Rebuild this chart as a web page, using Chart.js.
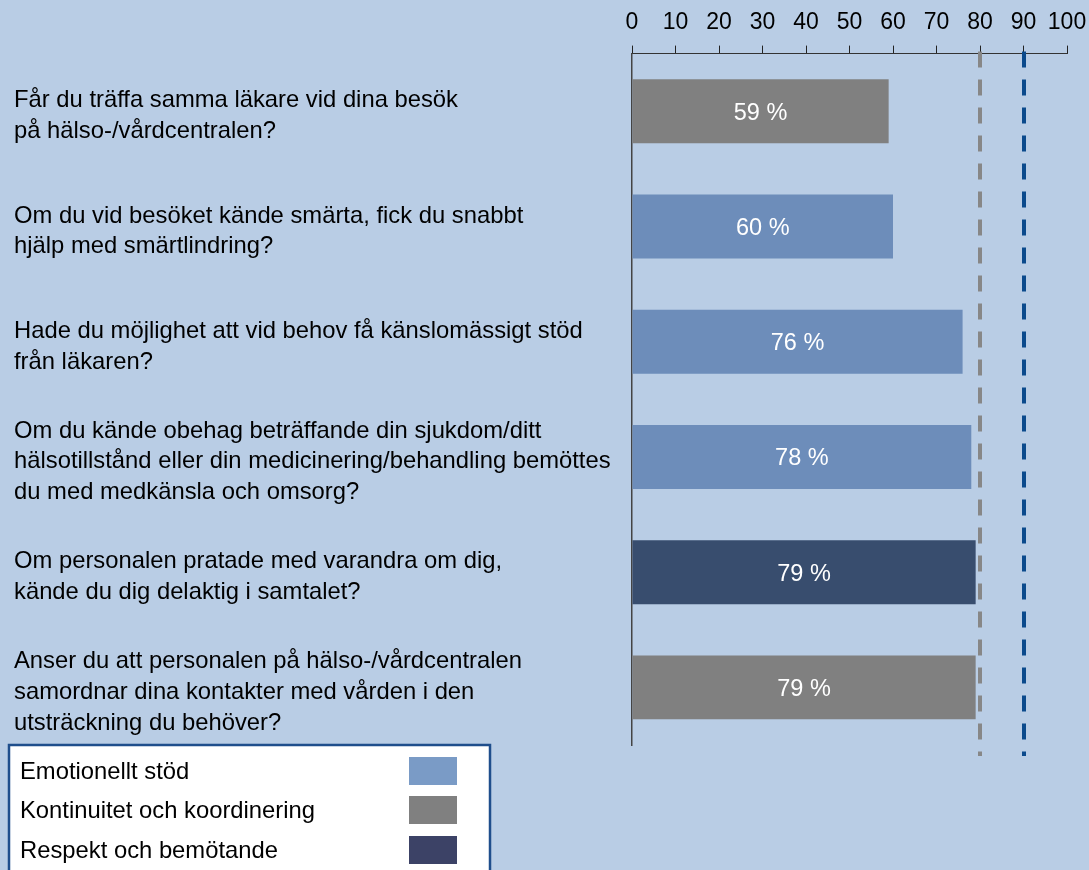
<!DOCTYPE html>
<html lang="sv">
<head>
<meta charset="utf-8">
<title>Frågor</title>
<script src="https://cdn.jsdelivr.net/npm/chart.js@4.4.1/dist/chart.umd.min.js"></script>
<style>
  html, body { margin: 0; padding: 0; background: #b9cde5; }
  #wrap { width: 1089px; height: 870px; position: relative; }
</style>
</head>
<body>
<div id="wrap"><canvas id="grafico" width="1089" height="870"></canvas></div>
<script>
// Frågorna (en rad per element i varje array)
const fragor = [
  ['Får du träffa samma läkare vid dina besök', 'på hälso-/vårdcentralen?'],
  ['Om du vid besöket kände smärta, fick du snabbt', 'hjälp med smärtlindring?'],
  ['Hade du möjlighet att vid behov få känslomässigt stöd', 'från läkaren?'],
  ['Om du kände obehag beträffande din sjukdom/ditt', 'hälsotillstånd eller din medicinering/behandling bemöttes', 'du med medkänsla och omsorg?'],
  ['Om personalen pratade med varandra om dig,', 'kände du dig delaktig i samtalet?'],
  ['Anser du att personalen på hälso-/vårdcentralen', 'samordnar dina kontakter med vården i den', 'utsträckning du behöver?']
];
const andelPositiva = [59, 60, 76, 78, 79, 79];
// vilken dimension varje fråga hör till (index i dimensioner)
const dimensionPerFraga = [1, 0, 0, 0, 2, 1];

const dimensioner = ['Emotionellt stöd', 'Kontinuitet och koordinering', 'Respekt och bemötande'];
const dimensionFarger = ['#6d8dba', '#808080', '#384d6e'];
const legendFarger = ['#7a9bc6', '#808080', '#3c4266'];

// referenslinjer (grå = 80, blå = 90)
const referensVarden = [80, 90];
const referensFarger = ['#878787', '#0b4a8c'];

const xTicks = [0, 10, 20, 30, 40, 50, 60, 70, 80, 90, 100];

const fontFamilj = '"Liberation Sans", Arial, sans-serif';

// Plugin: streckade referenslinjer
const referensLinjer = {
  id: 'referensLinjer',
  afterDatasetsDraw(chart) {
    const { ctx, chartArea, scales } = chart;
    ctx.save();
    ctx.lineWidth = 4;
    ctx.setLineDash([16, 12]);
    referensVarden.forEach((v, i) => {
      const x = Math.round(scales.x.getPixelForValue(v));
      ctx.strokeStyle = referensFarger[i];
      ctx.beginPath();
      ctx.moveTo(x, chartArea.top - 2);
      ctx.lineTo(x, chartArea.bottom + 11);
      ctx.stroke();
    });
    ctx.restore();
  }
};

// Plugin: procenttext mitt i staplarna
const stapelEtiketter = {
  id: 'stapelEtiketter',
  afterDatasetsDraw(chart) {
    const { ctx } = chart;
    const meta = chart.getDatasetMeta(0);
    ctx.save();
    ctx.fillStyle = '#ffffff';
    ctx.font = '23.5px ' + fontFamilj;
    ctx.textAlign = 'center';
    ctx.textBaseline = 'middle';
    meta.data.forEach((bar, i) => {
      const mitt = (bar.x + bar.base) / 2;
      ctx.fillText(andelPositiva[i] + ' %', mitt, bar.y + 2);
    });
    ctx.restore();
  }
};

// Plugin: förklaringsrutan nere till vänster
const forklaring = {
  id: 'forklaring',
  afterDraw(chart) {
    const { ctx } = chart;
    ctx.save();
    ctx.fillStyle = '#ffffff';
    ctx.fillRect(9, 745, 481, 130);
    ctx.strokeStyle = '#1f4e8c';
    ctx.lineWidth = 2.5;
    ctx.strokeRect(9, 745, 481, 130);

    ctx.font = '23.8px ' + fontFamilj;
    ctx.textBaseline = 'middle';
    ctx.textAlign = 'left';
    const radY = [771, 810, 850];
    dimensioner.forEach((namn, i) => {
      ctx.fillStyle = '#000000';
      ctx.fillText(namn, 20, radY[i] + 1);
      ctx.fillStyle = legendFarger[i];
      ctx.fillRect(409, radY[i] - 14, 48, 28);
    });
    ctx.restore();
  }
};

const ctx = document.getElementById('grafico').getContext('2d');

new Chart(ctx, {
  type: 'bar',
  data: {
    labels: fragor,
    datasets: [{
      data: andelPositiva,
      backgroundColor: dimensionPerFraga.map(d => dimensionFarger[d]),
      borderWidth: 0,
      barPercentage: 0.555,
      categoryPercentage: 1
    }]
  },
  options: {
    indexAxis: 'y',
    responsive: false,
    animation: false,
    layout: { padding: { left: 14, right: 22, top: 0, bottom: 125 } },
    plugins: {
      legend: { display: false },
      tooltip: { enabled: false }
    },
    scales: {
      x: {
        position: 'top',
        min: 0,
        max: 100,
        afterBuildTicks(scale) {
          scale.ticks = xTicks.map(v => ({ value: v }));
        },
        afterFit(scale) {
          scale.paddingLeft = 0;
          scale.paddingRight = 0;
        },
        ticks: {
          color: '#000000',
          font: { family: fontFamilj, size: 23 },
          padding: 9,
          maxRotation: 0,
          autoSkip: false
        },
        grid: {
          drawOnChartArea: false,
          drawTicks: true,
          tickLength: 8,
          color: '#222222',
          lineWidth: 1
        },
        border: { display: true, color: '#333333', width: 1 }
      },
      y: {
        afterFit(scale) { scale.width = 618; },
        ticks: {
          crossAlign: 'far',
          color: '#000000',
          font: { family: fontFamilj, size: 23.8, lineHeight: 1.3 },
          padding: 0,
          labelOffset: 5,
          autoSkip: false
        },
        grid: { display: false, drawTicks: false },
        border: { display: true, color: '#444444', width: 1.5 }
      }
    }
  },
  plugins: [referensLinjer, stapelEtiketter, forklaring]
});
</script>
</body>
</html>
